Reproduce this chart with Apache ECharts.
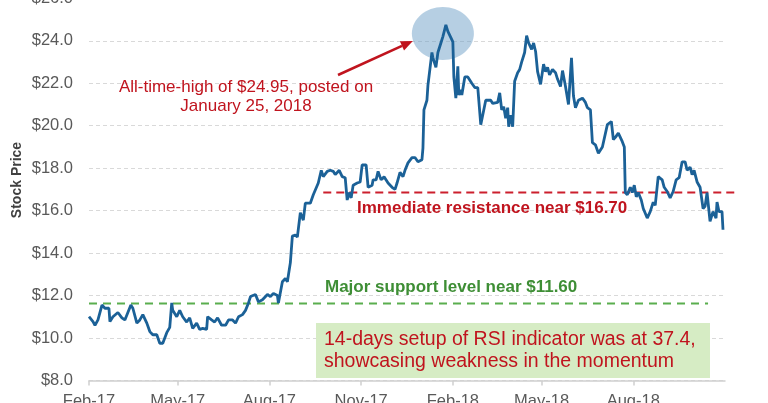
<!DOCTYPE html>
<html>
<head>
<meta charset="utf-8">
<title>Stock Price</title>
<script src="https://cdn.jsdelivr.net/npm/echarts@6/dist/echarts.min.js"></script>
<style>
  html, body { margin: 0; padding: 0; background: #fff; }
  #chart { width: 768px; height: 403px; }
</style>
</head>
<body>
<div id="chart"></div>
<script>
// price, x as days after 1 Feb 2017
var startDate = '2017-02-01';
var dayOffsets = [0, 4, 6, 9, 13, 16, 20, 21, 24, 29, 33, 36, 39, 42, 44, 48, 51, 54, 58, 61,
  64, 68, 71, 74, 78, 81, 83, 84, 88, 91, 94, 98, 101, 104, 108, 111, 114, 118, 119, 123,
  126, 129, 133,
  137, 140, 144, 147, 150, 154, 157, 160, 162, 167, 170, 174, 179, 182, 185, 189, 190, 194, 197, 199,
  202, 204, 207, 209, 212, 215, 217, 222, 225, 227, 230, 233, 235, 239, 242, 245, 247, 249, 251, 254,
  257, 259, 261, 263, 265, 269, 272, 274, 278, 280, 284, 285, 288, 290, 293, 296, 300, 304, 307, 309,
  312, 315, 317, 320, 324, 327, 330, 334, 335, 336, 339, 340, 342, 344, 345, 348, 350, 353, 355, 358,
  360, 363, 365, 366, 368, 370, 371, 373, 374, 377, 380, 384, 387, 390, 393, 395, 398, 400, 403, 405,
  410, 412, 414, 416, 418, 420, 421, 423, 425, 427, 430, 432, 434, 437, 439, 441, 444, 446, 448, 450,
  453, 456, 458, 460, 462, 465, 468, 470, 473, 475, 478, 481, 484, 486, 488, 491, 495, 498, 500, 503,
  505, 508, 511, 515, 516, 520, 524, 526, 528, 531, 535, 537, 538, 540, 543, 545, 547, 549, 551, 554,
  556, 560, 563, 566, 568, 571, 575, 577, 580, 583, 586, 589, 592, 595, 598, 600, 603, 605, 607, 610,
  613, 616, 618, 620, 623, 626, 629, 630, 632, 635, 636];
var prices = [11.0, 10.77, 10.6, 10.85, 11.55, 11.4, 11.4, 10.77, 11.0, 11.2, 10.95, 10.85, 11.2, 11.55, 11.4, 10.7, 10.85, 11.1, 10.7, 10.3,
  10.15, 10.15, 9.75, 9.75, 10.25, 10.5, 11.65, 11.3, 11.0, 11.3, 11.0, 10.75, 10.95, 10.45, 10.7, 10.4, 10.45, 10.4, 11.0, 10.85,
  10.75, 10.95, 10.6,
  10.6, 10.85, 10.85, 10.7, 11.0, 11.1, 11.3, 11.65, 11.95, 12.05, 11.7, 11.8, 12.05, 11.95, 12.1, 12.0, 11.65, 12.65, 12.8, 12.65,
  13.55, 14.8, 14.85, 14.75, 15.9, 15.55, 16.35, 16.35, 16.75, 16.75, 17.3, 17.9, 17.6, 17.85, 17.9, 17.85, 17.7, 17.8, 17.9, 17.6,
  17.55, 16.5, 16.85, 16.6, 17.2, 17.3, 17.35, 18.15, 18.15, 17.1, 17.2, 17.45, 17.45, 17.85, 17.45, 17.6, 17.3, 17.1, 17.0, 17.3,
  17.8, 17.6, 17.9, 18.25, 18.5, 18.5, 18.3, 18.4, 18.95, 20.75, 21.2, 21.9, 21.85, 23.45, 23.2, 22.75, 23.45, 23.9, 24.2, 24.75,
  24.45, 24.15, 23.95, 22.3, 21.3, 22.8, 21.45, 21.7, 21.45, 22.3, 22.3, 22.0, 21.8, 21.8, 20.05, 20.1, 21.2, 21.25, 21.2, 21.05,
  21.1, 21.55, 20.75, 20.9, 20.35, 20.85, 19.95, 20.5, 19.95, 22.1, 22.5, 22.65, 23.0, 23.45, 24.25, 23.9, 23.6, 23.9, 23.5, 22.55,
  21.95, 22.9, 22.55, 22.75, 22.4, 22.65, 22.5, 22.2, 21.85, 22.6, 21.85, 21.0, 23.2, 21.4, 20.85, 21.2, 21.3, 21.1, 20.85, 20.75,
  19.2, 19.1, 18.7, 19.0, 18.95, 20.05, 20.2, 19.35, 19.45, 19.65, 19.25, 19.0, 16.85, 16.75, 17.1, 16.85, 17.2, 16.65, 16.85, 16.5,
  16.1, 15.65, 15.95, 16.4, 16.25, 17.6, 17.45, 17.1, 16.9, 16.6, 16.9, 17.45, 17.55, 18.3, 18.3, 17.9, 18.05, 17.7, 17.9, 17.35,
  17.1, 16.1, 16.2, 16.85, 15.5, 15.95, 15.65, 16.4, 15.95, 15.95, 15.1];

var tickDates = ['2017-02-01', '2017-05-01', '2017-08-01', '2017-11-01', '2018-02-01', '2018-05-01', '2018-08-01'];
var axisEnd = '2018-11-01';
var monthNames = ['Jan', 'Feb', 'Mar', 'Apr', 'May', 'Jun', 'Jul', 'Aug', 'Sep', 'Oct', 'Nov', 'Dec'];

var peakDate = '2018-01-25';
var peakPrice = 24.75;
var resistanceLevel = 16.85;
var resistanceSpan = ['2017-09-24', '2018-11-13'];
var supportLevel = 11.62;
var supportSpan = ['2017-02-01', '2018-10-15'];

var DAY = 86400000;
var FONT = '"Liberation Sans", Arial, sans-serif';
var RED = '#c0141e';

function toUTC (s) {
  var p = s.split('-');
  return Date.UTC(+p[0], +p[1] - 1, +p[2]);
}
// days after startDate
function dayOf (s) {
  return Math.round((toUTC(s) - toUTC(startDate)) / DAY);
}

var seriesData = dayOffsets.map(function (d, i) {
  return [d, prices[i]];
});
var tickDays = tickDates.map(dayOf);

var chart = echarts.init(document.getElementById('chart'));

chart.setOption({
  animation: false,
  backgroundColor: '#fff',
  grid: { left: 89, right: 43, top: -1.6, bottom: 22.6, containLabel: false, outerBoundsMode: 'none' },
  xAxis: {
    type: 'value',
    min: 0,
    max: dayOf(axisEnd),
    axisLine: { lineStyle: { color: '#d0d0d0', width: 1.5 } },
    axisTick: {
      show: true,
      length: 5,
      customValues: tickDays,
      lineStyle: { color: '#d0d0d0', width: 1.5 }
    },
    axisLabel: {
      customValues: tickDays,
      margin: 13,
      color: '#595959',
      fontSize: 16.5,
      fontFamily: FONT,
      formatter: function (v) {
        var d = new Date(toUTC(startDate) + v * DAY);
        return monthNames[d.getUTCMonth()] + '-' + String(d.getUTCFullYear()).slice(2);
      }
    },
    splitLine: { show: false }
  },
  yAxis: {
    type: 'value',
    min: 8,
    max: 26,
    interval: 2,
    axisLine: { show: false },
    axisTick: { show: false },
    axisLabel: {
      margin: 16,
      color: '#595959',
      fontSize: 16.5,
      fontFamily: FONT,
      formatter: function (v) { return '$' + v.toFixed(1); }
    },
    splitLine: { lineStyle: { color: '#d9d9d9', type: [4, 3] } }
  },
  series: [{
    type: 'line',
    data: seriesData,
    showSymbol: false,
    z: 3,
    lineStyle: { color: '#1b6197', width: 2.8 }
  }]
});

// annotations placed from data values through the grid's scales
function px (day, price) {
  return chart.convertToPixel({ gridIndex: 0 }, [day, price]);
}
var r0 = px(dayOf(resistanceSpan[0]), resistanceLevel), r1 = px(dayOf(resistanceSpan[1]), resistanceLevel);
var s0 = px(dayOf(supportSpan[0]), supportLevel), s1 = px(dayOf(supportSpan[1]), supportLevel);

var pk = px(dayOf(peakDate), peakPrice);
var cx = pk[0] - 3, cy = pk[1] + 8.5;
var tip = [cx - 30, cy + 7.5];
var tail = [338, 75];
var ang = Math.atan2(tip[1] - tail[1], tip[0] - tail[0]);
var headLen = 12, headW = 5;
var base = [tip[0] - headLen * Math.cos(ang), tip[1] - headLen * Math.sin(ang)];
var head = [
  tip,
  [base[0] + headW * Math.sin(ang), base[1] - headW * Math.cos(ang)],
  [base[0] - headW * Math.sin(ang), base[1] + headW * Math.cos(ang)]
];

chart.setOption({
  graphic: [
    { type: 'ellipse', z: 1, silent: true, shape: { cx: cx, cy: cy, rx: 31, ry: 26.5 },
      style: { fill: 'rgba(110,160,200,0.5)' } },
    { type: 'line', z: 2, silent: true, shape: { x1: r0[0], y1: r0[1], x2: r1[0], y2: r1[1] },
      style: { stroke: '#cc1f2d', lineWidth: 2, lineDash: [8, 5] } },
    { type: 'line', z: 2, silent: true, shape: { x1: s0[0], y1: s0[1], x2: s1[0], y2: s1[1] },
      style: { stroke: '#5aae4e', lineWidth: 2, lineDash: [8, 6] } },
    { type: 'line', z: 5, silent: true,
      shape: { x1: tail[0], y1: tail[1], x2: base[0], y2: base[1] },
      style: { stroke: RED, lineWidth: 2.5 } },
    { type: 'polygon', z: 5, silent: true, shape: { points: head }, style: { fill: RED } },
    { type: 'text', z: 5, silent: true, x: 246, y: 97,
      style: { text: 'All-time-high of $24.95, posted on\nJanuary 25, 2018', align: 'center', verticalAlign: 'middle',
        font: '17px ' + FONT, fill: RED, lineHeight: 19 } },
    { type: 'text', z: 5, silent: true, x: 357, y: 208,
      style: { text: 'Immediate resistance near $16.70', align: 'left', verticalAlign: 'middle',
        font: 'bold 17px ' + FONT, fill: RED } },
    { type: 'text', z: 5, silent: true, x: 325, y: 287,
      style: { text: 'Major support level near $11.60', align: 'left', verticalAlign: 'middle',
        font: 'bold 17px ' + FONT, fill: '#3e8e35' } },
    { type: 'rect', z: 1, silent: true, shape: { x: 316, y: 323, width: 394, height: 55 },
      style: { fill: '#d6ecc4' } },
    { type: 'text', z: 5, silent: true, x: 324, y: 351,
      style: { text: '14-days setup of RSI indicator was at 37.4,\nshowcasing weakness in the momentum', align: 'left',
        verticalAlign: 'middle', font: '19.5px ' + FONT, fill: RED, lineHeight: 22 } },
    { type: 'text', z: 5, silent: true, x: 17.5, y: 180, rotation: Math.PI / 2,
      style: { text: 'Stock Price', align: 'center', verticalAlign: 'middle',
        font: 'bold 14px ' + FONT, fill: '#404040' } }
  ]
});
</script>
</body>
</html>
